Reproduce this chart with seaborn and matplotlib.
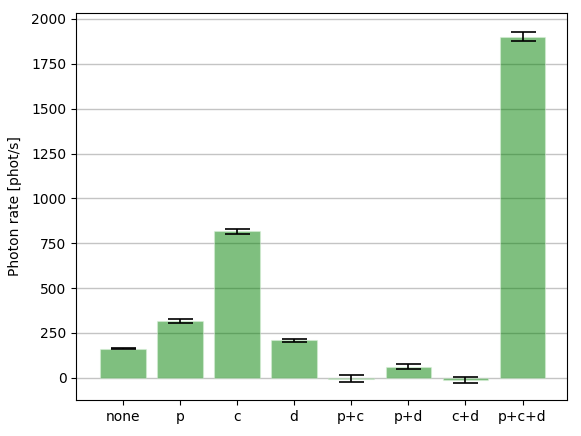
import numpy as np
import pandas as pd
import matplotlib
matplotlib.use('Agg')
import matplotlib.pyplot as plt
import seaborn as sns

# photon rates per filter combination
combos = ['none', 'p', 'c', 'd', 'p+c', 'p+d', 'c+d', 'p+c+d']
rates = [163, 316, 817, 210, -6, 62, -11, 1902]
errors = [5, 10, 13, 8, 19, 14, 17, 27]

df = pd.DataFrame({'combo': combos, 'rate': rates, 'err': errors})

fig = plt.figure(figsize=(5.81, 4.36), dpi=100)
ax = fig.add_axes([0.131, 0.083, 0.845, 0.887])

sns.barplot(data=df, x='combo', y='rate', color='green', alpha=0.5,
            saturation=1, width=0.8, ax=ax, errorbar=None,
            edgecolor='#d8efd8', linewidth=0.8)
ax.errorbar(x=np.arange(len(combos)), y=df['rate'], yerr=df['err'],
            fmt='none', ecolor='black', capsize=9, elinewidth=1.2,
            capthick=1.2)

ax.yaxis.grid(True, color='#c4c4c4', linewidth=1.0)
ax.set_axisbelow(True)
ax.set_xlabel('')
ax.set_ylabel('Photon rate [phot/s]', labelpad=7)
ax.set_ylim(-123, 2033)
ax.set_xlim(-0.82, 7.78)

fig.savefig('out.png', dpi=100)
